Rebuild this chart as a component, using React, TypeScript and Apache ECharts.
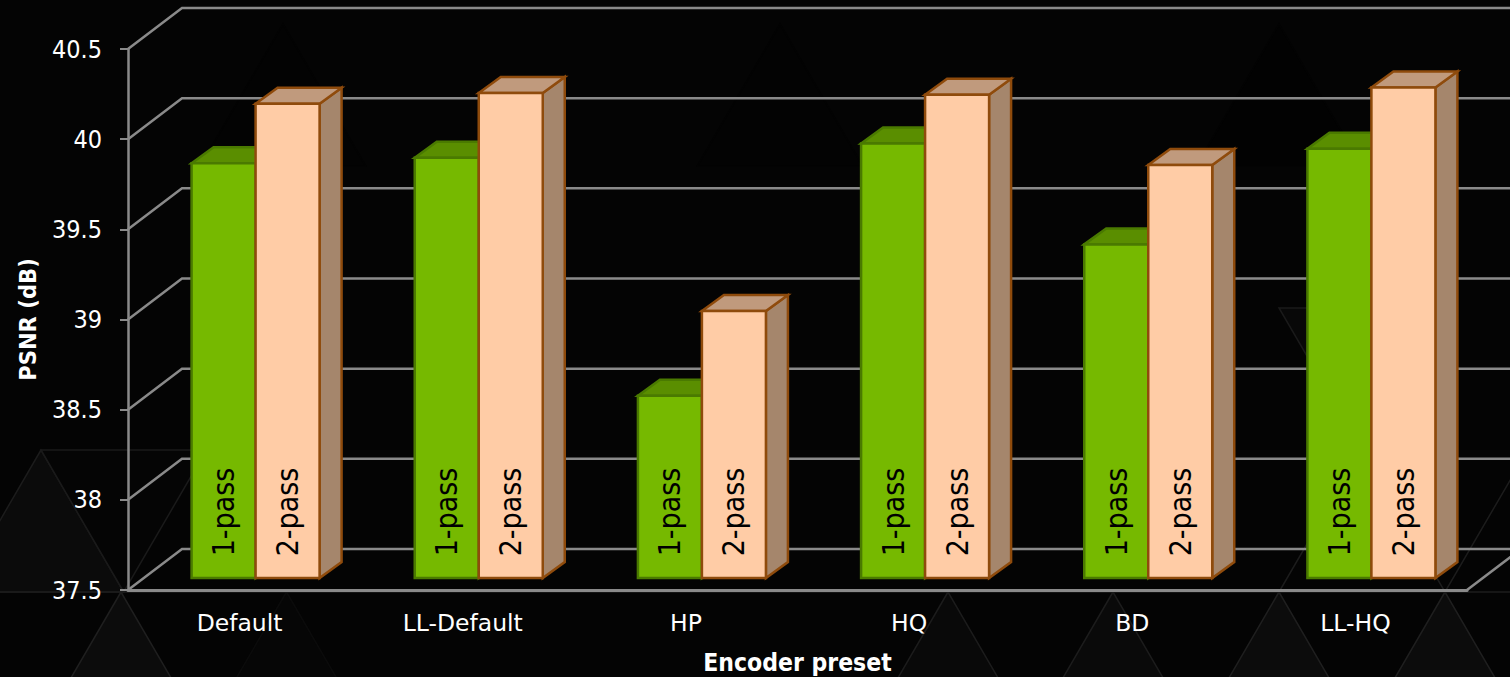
import React, { useEffect, useRef } from "react";
import * as echarts from "echarts";

const categories = ["Default", "LL-Default", "HP", "HQ", "BD", "LL-HQ"];
const onePass = [39.8, 39.83, 38.51, 39.91, 39.35, 39.88];
const twoPass = [40.13, 40.19, 38.98, 40.18, 39.79, 40.22];
const ticks = [37.5, 38, 38.5, 39, 39.5, 40, 40.5];

const FONT = '"DejaVu Sans Condensed", "DejaVu Sans", sans-serif';
const FONT_WIDE = '"DejaVu Sans", sans-serif';
const WALL_DX = 54;
const WALL_DY = -41;
const BAR_DX = 22;
const BAR_DY = -16;
const SHIFT_X = 16;
const SHIFT_Y = -12;
const BAR_W = 64;

const up = (ax: number, y: number) => [[ax, y], [ax - 82.7, y + 142], [ax + 82.7, y + 142]];
const down = (ax: number, y: number) => [[ax, y], [ax + 165.4, y], [ax + 82.7, y + 142]];

const bgTriangles = [
  { pts: up(41, 450), fill: "#0b0b0b", stroke: "#1c1c1c" },
  { pts: down(41, 450), fill: "#050505", stroke: "#1a1a1a" },
  { pts: up(121, 592), fill: "#0c0c0c", stroke: "#1f1f1f" },
  { pts: up(286.5, 592), fill: "#060606", stroke: "#0b0b0b" },
  { pts: up(948, 592), fill: "#090909", stroke: "#1c1c1c" },
  { pts: up(1113, 592), fill: "#0a0a0a", stroke: "#1c1c1c" },
  { pts: up(1279, 592), fill: "#0c0c0c", stroke: "#1f1f1f" },
  { pts: up(1445, 592), fill: "#0c0c0c", stroke: "#1f1f1f" },
  { pts: down(1279, 308), fill: "#080808", stroke: "#1a1a1a" },
  { pts: up(1279, 24), fill: "#020202", stroke: "#030303" },
  { pts: up(283, 24), fill: "#030303", stroke: "#030303" },
  { pts: up(780, 24), fill: "#030303", stroke: "#030303" },
];

function barSeries(name: string, values: number[], side: number, c: any, label: string) {
  return {
    type: "custom",
    name,
    z: 3,
    data: values.map((v, i) => [i, v]),
    encode: { x: 0, y: 1 },
    renderItem: (_p: any, api: any) => {
      const i = api.value(0);
      const top = api.coord([i, api.value(1)]);
      const base = api.coord([i, ticks[0]]);
      const x0 = top[0] + SHIFT_X + (side === 0 ? -BAR_W : 0);
      const x1 = x0 + BAR_W;
      const yt = top[1] + SHIFT_Y;
      const yb = base[1] + SHIFT_Y;
      const stroke = { stroke: c.stroke, lineWidth: 2.5, lineJoin: "miter" };
      return {
        type: "group",
        children: [
          {
            type: "polygon",
            shape: { points: [[x1, yt], [x1 + BAR_DX, yt + BAR_DY], [x1 + BAR_DX, yb + BAR_DY], [x1, yb]] },
            style: { fill: c.side, ...stroke },
          },
          {
            type: "polygon",
            shape: { points: [[x0, yt], [x0 + BAR_DX, yt + BAR_DY], [x1 + BAR_DX, yt + BAR_DY], [x1, yt]] },
            style: { fill: c.top, ...stroke },
          },
          {
            type: "rect",
            shape: { x: x0, y: yt, width: BAR_W, height: yb - yt },
            style: { fill: c.front, ...stroke },
          },
          {
            type: "text",
            x: x0 + BAR_W / 2,
            y: yb - 66,
            rotation: Math.PI / 2,
            style: {
              text: label,
              fill: "#000000",
              font: `30px ${FONT}`,
              align: "center",
              verticalAlign: "middle",
            },
          },
        ],
      };
    },
  };
}

export default function App() {
  const ref = useRef<HTMLDivElement>(null);
  useEffect(() => {
    document.body.style.margin = "0";
    document.body.style.background = "#040404";
    document.body.style.overflow = "hidden";
    const chart = echarts.init(ref.current!, undefined, { renderer: "svg" });
    const bg: any[] = bgTriangles.map((t) => ({
      type: "polygon",
      z: 0,
      silent: true,
      shape: { points: t.pts },
      style: { fill: t.fill, stroke: t.stroke, lineWidth: 1.5 },
    }));
    bg.push(
      { type: "line", z: 0, silent: true, shape: { x1: 0, y1: 592, x2: 1510, y2: 592 }, style: { stroke: "#1c1c1c", lineWidth: 1.5 } },
      {
        type: "polyline",
        z: 0,
        silent: true,
        shape: { points: [[1279, 592], [1361.7, 450], [1445, 592], [1527.7, 450]] },
        style: { stroke: "#1c1c1c", lineWidth: 1.5, fill: "none" },
      }
    );
    chart.setOption({
      animation: false,
      backgroundColor: "#040404",
      graphic: bg,
      grid: { left: 128, right: 43, top: 49, bottom: 87, outerBoundsMode: "none" },
      xAxis: {
        type: "category",
        data: categories,
        name: "Encoder preset",
        nameLocation: "middle",
        nameGap: 60,
        nameTextStyle: { color: "#ffffff", fontSize: 24.5, fontWeight: "bold", fontFamily: FONT },
        axisLine: { show: true, lineStyle: { color: "#8a8a8a", width: 3 } },
        axisTick: { show: false },
        axisLabel: { color: "#ffffff", fontSize: 23.5, fontFamily: FONT_WIDE, margin: 21 },
        splitLine: { show: false },
      },
      yAxis: {
        type: "value",
        min: 37.5,
        max: 40.5,
        interval: 0.5,
        name: "PSNR (dB)",
        nameLocation: "middle",
        nameRotate: 90,
        nameGap: 88,
        nameTextStyle: { color: "#ffffff", fontSize: 23.5, fontWeight: "bold", fontFamily: FONT },
        axisLine: { show: true, lineStyle: { color: "#8a8a8a", width: 2.5 } },
        axisTick: { show: true, length: 8, lineStyle: { color: "#8a8a8a", width: 2 } },
        axisLabel: {
          color: "#ffffff",
          fontSize: 25,
          fontFamily: FONT,
          margin: 26,
          formatter: (v: number) => String(v),
        },
        splitLine: { show: false },
      },
      series: [
        {
          type: "custom",
          z: 2,
          silent: true,
          data: ticks.map((t) => [0, t]),
          encode: { x: 0, y: 1 },
          clip: false,
          renderItem: (p: any, api: any) => {
            const y = api.coord([0, api.value(1)])[1];
            const x0 = p.coordSys.x;
            const x1 = x0 + p.coordSys.width;
            const pts: number[][] = [[x0, y], [x0 + WALL_DX, y + WALL_DY], [x1 + WALL_DX, y + WALL_DY]];
            if (api.value(1) === ticks[0]) pts.push([x1, y]);
            return {
              type: "polyline",
              shape: { points: pts },
              style: { stroke: "#8a8a8a", lineWidth: 2.5, fill: "none" },
            };
          },
        },
        barSeries("1-pass", onePass, 0, { front: "#76b900", top: "#5a8e00", side: "#5a8e00", stroke: "#4a7a00" }, "1-pass"),
        barSeries("2-pass", twoPass, 1, { front: "#ffcca6", top: "#c09a7d", side: "#a5866c", stroke: "#8f4b0c" }, "2-pass"),
      ],
    });
    return () => chart.dispose();
  }, []);
  return <div ref={ref} style={{ position: "fixed", left: 0, top: 0, width: 1510, height: 677 }} />;
}
